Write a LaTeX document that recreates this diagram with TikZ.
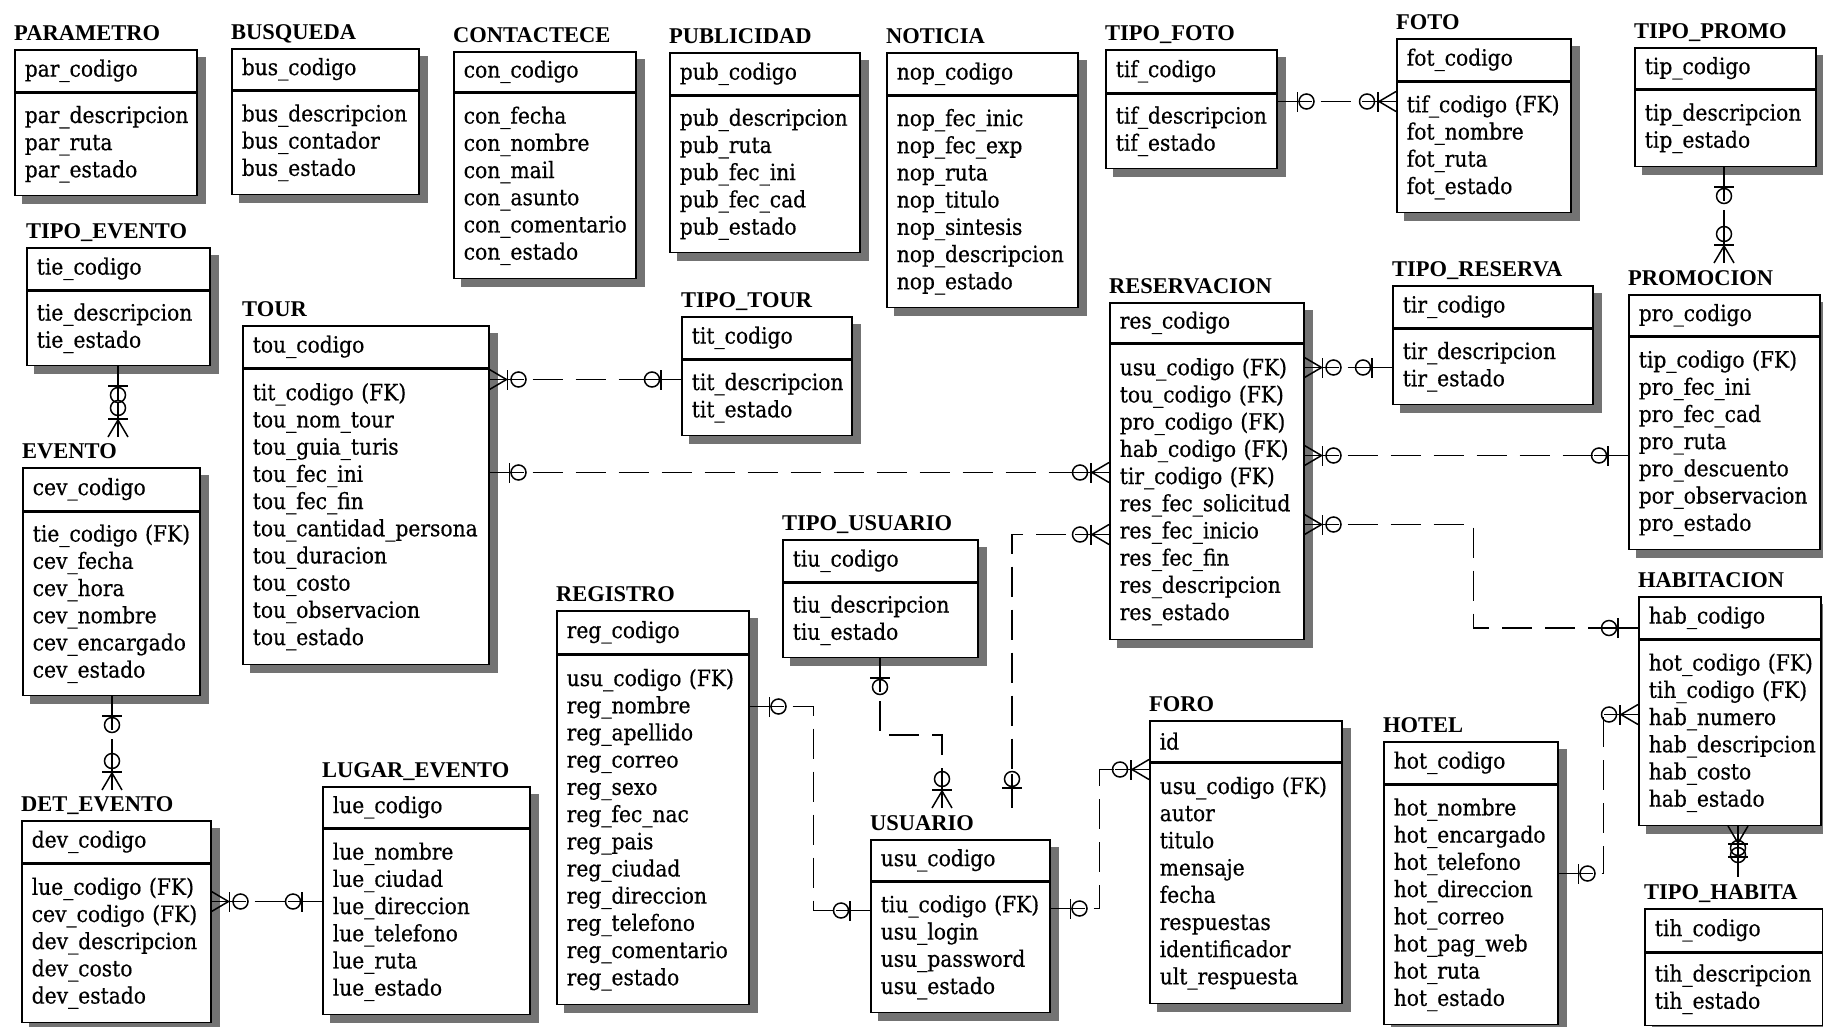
\documentclass[tikz,border=0pt]{standalone}
\usepackage{fontspec}
\newfontfamily\attrfont{DejaVu Serif}[FakeStretch=0.9, FakeBold=0.5]
\newfontfamily\titlefont{Liberation Serif}
\usetikzlibrary{positioning, calc, backgrounds, decorations.markings}

\begin{document}
\begin{tikzpicture}[x=1pt, y=-1pt,
  keybox/.style={draw, fill=white, line width=1.5pt, anchor=north west, inner xsep=10pt,
    inner ysep=0pt, align=left, font=\attrfont\fontsize{22.5}{27.2}\selectfont},
  attrbox/.style={keybox},
  tname/.style={inner sep=0pt, font=\titlefont\bfseries\fontsize{22.5}{27}\selectfont},
  shadowfill/.style={fill=black!55},
  rel/.style={draw, line width=1.5pt, dash pattern=on 30pt off 13pt},
  one start/.style={postaction={decorate, decoration={markings, reset marks,
    mark=at position 0.1pt with {\draw[solid] (0pt,0pt) -- (34pt,0pt);},
    mark=at position 20pt with {\draw[solid] (0pt,-10pt) -- (0pt,10pt);},
    mark=at position 29pt with {\draw[solid] (0pt,0pt) circle (7.5pt);}}}},
  one end/.style={postaction={decorate, decoration={markings, reset marks,
    mark=at position -34pt with {\draw[solid] (0pt,0pt) -- (34pt,0pt);},
    mark=at position -20pt with {\draw[solid] (0pt,-10pt) -- (0pt,10pt);},
    mark=at position -29pt with {\draw[solid] (0pt,0pt) circle (7.5pt);}}}},
  many start/.style={postaction={decorate, decoration={markings, reset marks,
    mark=at position 0.1pt with {\draw[solid] (0pt,0pt) -- (34pt,0pt);},
    mark=at position 17pt with {\draw[solid] (0pt,0pt) -- (-17pt,10pt) (0pt,0pt) -- (-17pt,-10pt);},
    mark=at position 18pt with {\draw[solid] (0pt,-10pt) -- (0pt,10pt);},
    mark=at position 29pt with {\draw[solid] (0pt,0pt) circle (7.5pt);}}}},
  many end/.style={postaction={decorate, decoration={markings, reset marks,
    mark=at position -34pt with {\draw[solid] (0pt,0pt) -- (34pt,0pt);},
    mark=at position -17pt with {\draw[solid] (0pt,0pt) -- (17pt,10pt) (0pt,0pt) -- (17pt,-10pt);},
    mark=at position -18pt with {\draw[solid] (0pt,-10pt) -- (0pt,10pt);},
    mark=at position -29pt with {\draw[solid] (0pt,0pt) circle (7.5pt);}}}},
]
  \path[use as bounding box] (0,0) rectangle (1823,1026);

  % top row
  \node[keybox, text width=162pt, minimum height=42pt] (par) at (14,49) {par\_codigo};
  \node[attrbox, text width=162pt, minimum height=102pt, below=0pt of par] (par-a) {par\_descripcion\\par\_ruta\\par\_estado};
  \node[tname, above=9pt of par.north west, anchor=base west] (par-t) {PARAMETRO};

  \node[keybox, text width=167pt, minimum height=41pt] (bus) at (231,48) {bus\_codigo};
  \node[attrbox, text width=167pt, minimum height=103pt, below=0pt of bus] (bus-a) {bus\_descripcion\\bus\_contador\\bus\_estado};
  \node[tname, above=9pt of bus.north west, anchor=base west] (bus-t) {BUSQUEDA};

  \node[keybox, text width=162pt, minimum height=40pt] (con) at (453,51) {con\_codigo};
  \node[attrbox, text width=162pt, minimum height=185pt, below=0pt of con] (con-a) {con\_fecha\\con\_nombre\\con\_mail\\con\_asunto\\con\_comentario\\con\_estado};
  \node[tname, above=9pt of con.north west, anchor=base west] (con-t) {CONTACTECE};

  \node[keybox, text width=170pt, minimum height=42pt] (pub) at (669,52) {pub\_codigo};
  \node[attrbox, text width=170pt, minimum height=156pt, below=0pt of pub] (pub-a) {pub\_descripcion\\pub\_ruta\\pub\_fec\_ini\\pub\_fec\_cad\\pub\_estado};
  \node[tname, above=9pt of pub.north west, anchor=base west] (pub-t) {PUBLICIDAD};

  \node[keybox, text width=171pt, minimum height=42pt] (nop) at (886,52) {nop\_codigo};
  \node[attrbox, text width=171pt, minimum height=211pt, below=0pt of nop] (nop-a) {nop\_fec\_inic\\nop\_fec\_exp\\nop\_ruta\\nop\_titulo\\nop\_sintesis\\nop\_descripcion\\nop\_estado};
  \node[tname, above=9pt of nop.north west, anchor=base west] (nop-t) {NOTICIA};

  \node[keybox, text width=151pt, minimum height=43pt] (tif) at (1105,49) {tif\_codigo};
  \node[attrbox, text width=151pt, minimum height=74pt, below=0pt of tif] (tif-a) {tif\_descripcion\\tif\_estado};
  \node[tname, above=9pt of tif.north west, anchor=base west] (tif-t) {TIPO\_FOTO};

  \node[keybox, text width=154pt, minimum height=42pt] (fot) at (1396,38) {fot\_codigo};
  \node[attrbox, text width=154pt, minimum height=130pt, below=0pt of fot] (fot-a) {tif\_codigo~(FK)\\fot\_nombre\\fot\_ruta\\fot\_estado};
  \node[tname, above=9pt of fot.north west, anchor=base west] (fot-t) {FOTO};

  \node[keybox, text width=161pt, minimum height=41pt] (tip) at (1634,47) {tip\_codigo};
  \node[attrbox, text width=161pt, minimum height=76pt, below=0pt of tip] (tip-a) {tip\_descripcion\\tip\_estado};
  \node[tname, above=9pt of tip.north west, anchor=base west] (tip-t) {TIPO\_PROMO};

  % middle
  \node[keybox, text width=163pt, minimum height=42pt] (tie) at (26,247) {tie\_codigo};
  \node[attrbox, text width=163pt, minimum height=74pt, below=0pt of tie] (tie-a) {tie\_descripcion\\tie\_estado};
  \node[tname, above=9pt of tie.north west, anchor=base west] (tie-t) {TIPO\_EVENTO};

  \node[keybox, text width=226pt, minimum height=42pt] (tou) at (242,325) {tou\_codigo};
  \node[attrbox, text width=226pt, minimum height=295pt, below=0pt of tou] (tou-a) {tit\_codigo~(FK)\\tou\_nom\_tour\\tou\_guia\_turis\\tou\_fec\_ini\\tou\_fec\_fin\\tou\_cantidad\_persona\\tou\_duracion\\tou\_costo\\tou\_observacion\\tou\_estado};
  \node[tname, above=9pt of tou.north west, anchor=base west] (tou-t) {TOUR};

  \node[keybox, text width=150pt, minimum height=42pt] (tit) at (681,316) {tit\_codigo};
  \node[attrbox, text width=150pt, minimum height=75pt, below=0pt of tit] (tit-a) {tit\_descripcion\\tit\_estado};
  \node[tname, above=9pt of tit.north west, anchor=base west] (tit-t) {TIPO\_TOUR};

  \node[keybox, text width=174pt, minimum height=40pt] (res) at (1109,302) {res\_codigo};
  \node[attrbox, text width=174pt, minimum height=295pt, below=0pt of res] (res-a) {usu\_codigo~(FK)\\tou\_codigo~(FK)\\pro\_codigo~(FK)\\hab\_codigo~(FK)\\tir\_codigo~(FK)\\res\_fec\_solicitud\\res\_fec\_inicio\\res\_fec\_fin\\res\_descripcion\\res\_estado};
  \node[tname, above=9pt of res.north west, anchor=base west] (res-t) {RESERVACION};

  \node[keybox, text width=180pt, minimum height=42pt] (tir) at (1392,285) {tir\_codigo};
  \node[attrbox, text width=180pt, minimum height=75pt, below=0pt of tir] (tir-a) {tir\_descripcion\\tir\_estado};
  \node[tname, above=9pt of tir.north west, anchor=base west] (tir-t) {TIPO\_RESERVA};

  \node[keybox, text width=171pt, minimum height=41pt] (pro) at (1628,294) {pro\_codigo};
  \node[attrbox, text width=171pt, minimum height=212pt, below=0pt of pro] (pro-a) {tip\_codigo~(FK)\\pro\_fec\_ini\\pro\_fec\_cad\\pro\_ruta\\pro\_descuento\\por\_observacion\\pro\_estado};
  \node[tname, above=9pt of pro.north west, anchor=base west] (pro-t) {PROMOCION};

  \node[keybox, text width=157pt, minimum height=43pt] (cev) at (22,467) {cev\_codigo};
  \node[attrbox, text width=157pt, minimum height=183pt, below=0pt of cev] (cev-a) {tie\_codigo~(FK)\\cev\_fecha\\cev\_hora\\cev\_nombre\\cev\_encargado\\cev\_estado};
  \node[tname, above=9pt of cev.north west, anchor=base west] (cev-t) {EVENTO};

  \node[keybox, text width=175pt, minimum height=42pt] (tiu) at (782,539) {tiu\_codigo};
  \node[attrbox, text width=175pt, minimum height=74pt, below=0pt of tiu] (tiu-a) {tiu\_descripcion\\tiu\_estado};
  \node[tname, above=9pt of tiu.north west, anchor=base west] (tiu-t) {TIPO\_USUARIO};

  \node[keybox, text width=162pt, minimum height=42pt] (hab) at (1638,596) {hab\_codigo};
  \node[attrbox, text width=162pt, minimum height=185pt, below=0pt of hab] (hab-a) {hot\_codigo~(FK)\\tih\_codigo~(FK)\\hab\_numero\\hab\_descripcion\\hab\_costo\\hab\_estado};
  \node[tname, above=9pt of hab.north west, anchor=base west] (hab-t) {HABITACION};

  % bottom row
  \node[keybox, text width=172pt, minimum height=43pt] (reg) at (556,610) {reg\_codigo};
  \node[attrbox, text width=172pt, minimum height=349pt, below=0pt of reg] (reg-a) {usu\_codigo~(FK)\\reg\_nombre\\reg\_apellido\\reg\_correo\\reg\_sexo\\reg\_fec\_nac\\reg\_pais\\reg\_ciudad\\reg\_direccion\\reg\_telefono\\reg\_comentario\\reg\_estado};
  \node[tname, above=9pt of reg.north west, anchor=base west] (reg-t) {REGISTRO};

  \node[keybox, text width=169pt, minimum height=42pt] (dev) at (21,820) {dev\_codigo};
  \node[attrbox, text width=169pt, minimum height=158pt, below=0pt of dev] (dev-a) {lue\_codigo~(FK)\\cev\_codigo~(FK)\\dev\_descripcion\\dev\_costo\\dev\_estado};
  \node[tname, above=9pt of dev.north west, anchor=base west] (dev-t) {DET\_EVENTO};

  \node[keybox, text width=187pt, minimum height=41pt] (lue) at (322,786) {lue\_codigo};
  \node[attrbox, text width=187pt, minimum height=185pt, below=0pt of lue] (lue-a) {lue\_nombre\\lue\_ciudad\\lue\_direccion\\lue\_telefono\\lue\_ruta\\lue\_estado};
  \node[tname, above=9pt of lue.north west, anchor=base west] (lue-t) {LUGAR\_EVENTO};

  \node[keybox, text width=159pt, minimum height=41pt] (usu) at (870,839) {usu\_codigo};
  \node[attrbox, text width=159pt, minimum height=130pt, below=0pt of usu] (usu-a) {tiu\_codigo~(FK)\\usu\_login\\usu\_password\\usu\_estado};
  \node[tname, above=9pt of usu.north west, anchor=base west] (usu-t) {USUARIO};

  \node[keybox, text width=172pt, minimum height=41pt] (foro) at (1149,720) {id};
  \node[attrbox, text width=172pt, minimum height=240pt, below=0pt of foro] (foro-a) {usu\_codigo~(FK)\\autor\\titulo\\mensaje\\fecha\\respuestas\\identificador\\ult\_respuesta};
  \node[tname, above=9pt of foro.north west, anchor=base west] (foro-t) {FORO};

  \node[keybox, text width=154pt, minimum height=42pt] (hot) at (1383,741) {hot\_codigo};
  \node[attrbox, text width=154pt, minimum height=239pt, below=0pt of hot] (hot-a) {hot\_nombre\\hot\_encargado\\hot\_telefono\\hot\_direccion\\hot\_correo\\hot\_pag\_web\\hot\_ruta\\hot\_estado};
  \node[tname, above=9pt of hot.north west, anchor=base west] (hot-t) {HOTEL};

  \node[keybox, text width=158pt, minimum height=43pt] (tih) at (1644,908) {tih\_codigo};
  \node[attrbox, text width=158pt, minimum height=72pt, below=0pt of tih] (tih-a) {tih\_descripcion\\tih\_estado};
  \node[tname, above=9pt of tih.north west, anchor=base west] (tih-t) {TIPO\_HABITA};

  % relations
  \draw[rel, one start, many end] ($(tif-a.north east)+(0,8)$) -- ($(fot-a.north west)+(0,20)$);
  \draw[rel, many start, one end] ($(tou-a.north east)+(0,11)$) -- ($(tit-a.north west)+(0,20)$);
  \draw[rel, one start, many end] ($(tou-a.north east)+(0,104)$) -- ($(res-a.north west)+(0,129)$);
  \draw[rel, many start, one end] ($(res-a.north east)+(0,24)$) -- ($(tir-a.north west)+(0,39)$);
  \draw[rel, many start, one end] ($(res-a.north east)+(0,112)$) -- ($(pro-a.north west)+(0,119)$);
  \draw[rel, many start, one end] ($(res-a.north east)+(0,181)$) -- ++(169,0) |- ($(hab.north west)+(0,32)$);
  \draw[rel, many start, one end] ($(res-a.north west)+(0,191)$) -| ($(usu.north west)+(142,-31)$);
  \draw[rel, one start, many end] ($(tiu-a.south west)+(98,0)$) -- ++(0,77) -| ($(usu.north west)+(72,-31)$);
  \draw[rel, one start, one end] ($(reg-a.north east)+(0,52)$) -- ++(64,0) |- ($(usu-a.north west)+(0,29)$);
  \draw[rel, one start, many end] ($(usu-a.north east)+(0,27)$) -- ++(49,0) |- ($(foro-a.north west)+(0,7)$);
  \draw[rel, one start, many end] ($(hot-a.north east)+(0,89)$) -- ++(45,0) |- ($(hab-a.north west)+(0,75)$);
  \draw[rel, many start, one end] ($(dev-a.north east)+(0,38)$) -- ($(lue-a.north west)+(0,73)$);
  \draw[rel, one start, many end] ($(tie-a.south west)+(92,0)$) -- ($(cev.north west)+(96,-30)$);
  \draw[rel, one start, many end] ($(cev-a.south west)+(90,0)$) -- ($(dev.north west)+(91,-30)$);
  \draw[rel, one start, many end] ($(tip-a.south west)+(90,0)$) -- ($(pro.north west)+(96,-31)$);
  \draw[rel, many start, one end] ($(hab-a.south west)+(100,0)$) -- ($(tih.north west)+(94,-31)$);

  \begin{scope}[on background layer]
    \fill[white] (0,0) rectangle (1823,1026);
    \foreach \e in {par,bus,con,pub,nop,tif,fot,tip,tie,tou,tit,res,tir,pro,cev,tiu,hab,reg,dev,lue,usu,foro,hot,tih}
      \fill[shadowfill] ([shift={(8,8)}]\e.north west) rectangle ([shift={(8,8)}]\e-a.south east);
  \end{scope}
\end{tikzpicture}
\end{document}
